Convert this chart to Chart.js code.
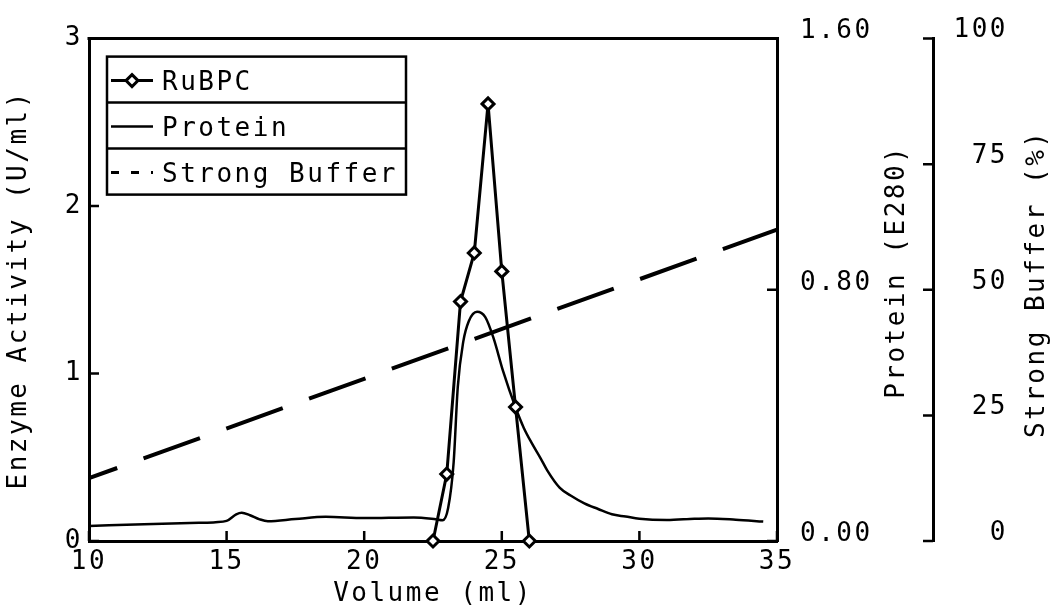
<!DOCTYPE html>
<html>
<head>
<meta charset="utf-8">
<script src="https://cdn.jsdelivr.net/npm/chart.js@4.4.1/dist/chart.umd.min.js"></script>
<style>
  html, body { margin: 0; padding: 0; background: #fff; }
  canvas { display: block; }
</style>
</head>
<body>
<canvas id="chart" width="1057" height="607"></canvas>
<script>
// RuBPC activity per fraction (U/ml)
const rubpcVolume = [22.5, 23, 23.5, 24, 24.5, 25, 25.5, 26];
const rubpcActivity = [0, 0.40, 1.43, 1.72, 2.61, 1.61, 0.80, 0];

// protein trace (E280)
const proteinVolume = [10, 12, 14, 14.6, 15.0, 15.35, 15.55, 15.85, 16.2, 16.5, 17.5, 18.6, 20, 21.8, 22.6, 22.85,
  23.05, 23.25, 23.4, 23.6, 23.8, 24.1, 24.4, 24.7, 25.05, 25.5, 25.8, 26.1, 26.4, 26.65, 27.1, 27.5, 28.0,
  28.5, 29.0, 29.5, 30, 31, 32, 32.5, 33.5, 34.5];
const protein = [0.048, 0.053, 0.058, 0.060, 0.064, 0.085, 0.090, 0.082, 0.069, 0.063, 0.070, 0.077, 0.073, 0.075, 0.069, 0.066,
  0.105, 0.25, 0.49, 0.635, 0.70, 0.73, 0.713, 0.646, 0.54, 0.425, 0.36, 0.31, 0.265, 0.225, 0.17, 0.145, 0.12,
  0.102, 0.085, 0.078, 0.071, 0.067, 0.071, 0.072, 0.068, 0.062];

// gradient (% strong buffer)
const bufferVolume = [10, 35];
const bufferPercent = [12.5, 62];

const xTitle = "Volume (ml)";
const yTitle = "Enzyme Activity (U/ml)";
const proteinTitle = "Protein (E280)";
const bufferTitle = "Strong Buffer (%)";

const FONT = "26px 'DejaVu Sans Mono', monospace";
const SPACING = "2.5px";

Chart.defaults.font.family = "'DejaVu Sans Mono', monospace";
Chart.defaults.font.size = 26;
Chart.defaults.color = "#000";

const pts = (xs, ys) => xs.map((x, i) => ({ x: x, y: ys[i] }));

// white page + wide lettering
const page = {
  id: "page",
  beforeUpdate(chart) { chart.ctx.letterSpacing = SPACING; },
  beforeDraw(chart) {
    const c = chart.ctx;
    c.letterSpacing = SPACING;
    c.save();
    c.fillStyle = "#fff";
    c.fillRect(0, 0, chart.width, chart.height);
    c.restore();
  }
};

// inward tick marks, top border of the frame, right-hand titles
const frame = {
  id: "frame",
  afterDraw(chart) {
    const c = chart.ctx;
    const ca = chart.chartArea;
    const s = chart.scales;
    const len = 10;
    c.save();
    c.strokeStyle = "#000";
    c.lineWidth = 3;
    c.lineCap = "square";
    c.beginPath();
    c.moveTo(ca.left, ca.top);
    c.lineTo(ca.right, ca.top);
    c.stroke();
    c.lineWidth = 2.5;
    c.lineCap = "butt";
    c.beginPath();
    s.x.ticks.forEach(t => {
      const px = s.x.getPixelForValue(t.value);
      c.moveTo(px, ca.bottom); c.lineTo(px, ca.bottom - len);
    });
    s.y.ticks.forEach(t => {
      const py = s.y.getPixelForValue(t.value);
      c.moveTo(ca.left, py); c.lineTo(ca.left + len, py);
    });
    s.protein.ticks.forEach(t => {
      const py = s.protein.getPixelForValue(t.value);
      c.moveTo(ca.right, py); c.lineTo(ca.right - len, py);
    });
    s.buffer.ticks.forEach(t => {
      const py = s.buffer.getPixelForValue(t.value);
      c.moveTo(s.buffer.left, py); c.lineTo(s.buffer.left - len, py);
    });
    c.stroke();

    // titles reading bottom to top
    c.fillStyle = "#000";
    c.font = FONT;
    c.textAlign = "center";
    c.textBaseline = "middle";
    [[s.protein, proteinTitle, 120, -18], [s.buffer, bufferTitle, 104, -6]].forEach(([sc, txt, dx, dy]) => {
      c.save();
      c.translate(sc.left + dx, (ca.top + ca.bottom) / 2 + dy);
      c.rotate(-Math.PI / 2);
      c.fillText(txt, 0, 0);
      c.restore();
    });
    c.restore();
  }
};

// boxed legend with one row per series
const boxLegend = {
  id: "boxLegend",
  afterDatasetsDraw(chart) {
    const c = chart.ctx;
    const ca = chart.chartArea;
    const x0 = ca.left + 18, y0 = ca.top + 18, w = 299, rowH = 46;
    const sets = chart.data.datasets;
    c.save();
    c.fillStyle = "#fff";
    c.fillRect(x0, y0, w, rowH * sets.length);
    c.strokeStyle = "#000";
    c.lineWidth = 2.5;
    c.strokeRect(x0, y0, w, rowH * sets.length);
    for (let i = 1; i < sets.length; i++) {
      c.beginPath();
      c.moveTo(x0, y0 + rowH * i);
      c.lineTo(x0 + w, y0 + rowH * i);
      c.stroke();
    }
    sets.forEach((ds, i) => {
      const cy = y0 + rowH * i + rowH / 2 + 1;
      c.save();
      c.strokeStyle = ds.borderColor;
      c.lineWidth = Math.min(ds.borderWidth, 3);
      if (ds.borderDash) c.setLineDash([8, 12]);
      c.beginPath();
      c.moveTo(x0 + 4, cy);
      c.lineTo(x0 + 46, cy);
      c.stroke();
      c.restore();
      if (ds.pointStyle && ds.pointRadius) {
        c.fillStyle = ds.pointBackgroundColor;
        c.strokeStyle = ds.pointBorderColor;
        c.lineWidth = ds.pointBorderWidth;
        c.beginPath();
        c.moveTo(x0 + 25, cy - 6); c.lineTo(x0 + 31, cy); c.lineTo(x0 + 25, cy + 6); c.lineTo(x0 + 19, cy);
        c.closePath();
        c.fill(); c.stroke();
      }
      c.fillStyle = "#000";
      c.font = FONT;
      c.textAlign = "left";
      c.textBaseline = "middle";
      c.fillText(ds.label, x0 + 55, cy + 3);
    });
    c.restore();
  }
};

const ctx = document.getElementById("chart").getContext("2d");

new Chart(ctx, {
  type: "line",
  data: {
    datasets: [
      {
        label: "RuBPC",
        data: pts(rubpcVolume, rubpcActivity),
        yAxisID: "y",
        borderColor: "#000",
        borderWidth: 3,
        tension: 0,
        pointStyle: "rectRot",
        pointRadius: 6,
        pointBorderWidth: 3,
        pointBackgroundColor: "#fff",
        pointBorderColor: "#000",
        clip: false
      },
      {
        label: "Protein",
        data: pts(proteinVolume, protein),
        yAxisID: "protein",
        borderColor: "#000",
        borderWidth: 2.5,
        pointRadius: 0,
        cubicInterpolationMode: "monotone"
      },
      {
        label: "Strong Buffer",
        data: pts(bufferVolume, bufferPercent),
        yAxisID: "buffer",
        borderColor: "#000",
        borderWidth: 4,
        borderDash: [60, 28],
        borderDashOffset: 30,
        pointRadius: 0
      }
    ]
  },
  options: {
    responsive: false,
    animation: false,
    devicePixelRatio: 1,
    layout: { padding: { top: 32, left: 0, right: 49, bottom: 0 } },
    plugins: { legend: { display: false }, tooltip: { enabled: false } },
    scales: {
      x: {
        type: "linear",
        min: 10, max: 35,
        ticks: { stepSize: 5, padding: 6, maxRotation: 0 },
        grid: { display: false, drawTicks: false },
        border: { color: "#000", width: 3 },
        title: { display: true, text: xTitle, padding: { top: 0, bottom: -3 } },
        afterFit(s) { s.height = 66; }
      },
      y: {
        position: "left",
        min: 0, max: 3,
        ticks: { stepSize: 1, padding: 6 },
        grid: { display: false, drawTicks: false },
        border: { color: "#000", width: 3 },
        title: { display: true, text: yTitle, padding: { top: 4, bottom: 0 } },
        afterFit(s) { s.width = 89; }
      },
      protein: {
        position: "right",
        weight: 0,
        min: 0, max: 1.6,
        ticks: { stepSize: 0.8, padding: 23, labelOffset: -7, callback: v => v.toFixed(2) },
        grid: { display: false, drawTicks: false },
        border: { color: "#000", width: 3 },
        afterFit(s) { s.width = 156; }
      },
      buffer: {
        position: "right",
        weight: 1,
        min: 0, max: 100,
        ticks: { stepSize: 25, padding: 20, crossAlign: "far", labelOffset: -8 },
        grid: { display: false, drawTicks: false },
        border: { color: "#000", width: 3 },
        afterFit(s) { s.width = 75; }
      }
    }
  },
  plugins: [page, frame, boxLegend]
});
</script>
</body>
</html>
